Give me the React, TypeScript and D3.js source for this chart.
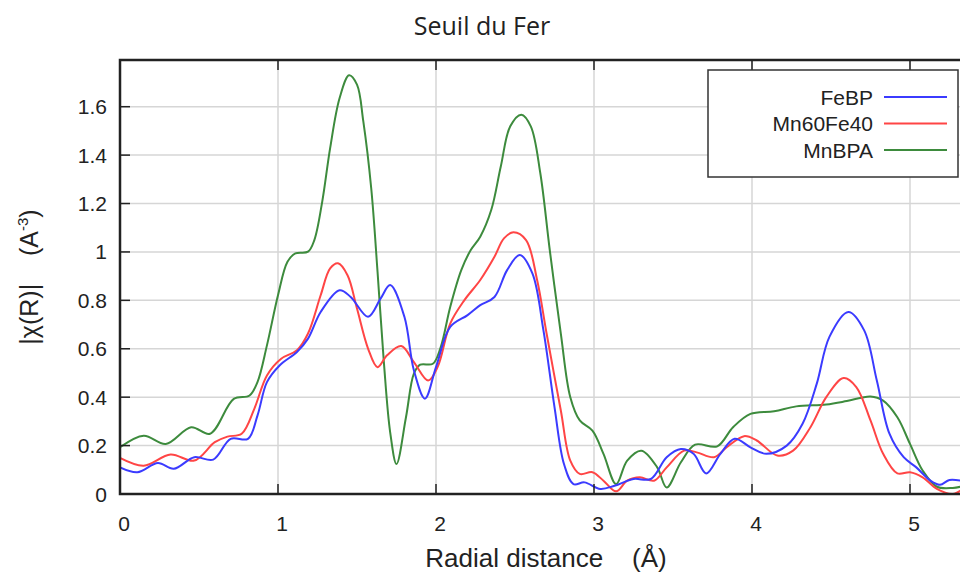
import { useEffect, useRef } from 'react';
import * as d3 from 'd3';

// FeBP
const febpR = [0, 0.11, 0.24, 0.34, 0.47, 0.59, 0.70, 0.81, 0.87, 0.93, 1.01, 1.12, 1.19, 1.27, 1.39, 1.46, 1.57, 1.65, 1.71, 1.80, 1.86, 1.93, 2.00, 2.09, 2.20, 2.28, 2.37, 2.45, 2.53, 2.61, 2.68, 2.75, 2.81, 2.87, 2.94, 3.04, 3.13, 3.25, 3.36, 3.46, 3.55, 3.63, 3.71, 3.80, 3.89, 3.99, 4.09, 4.22, 4.32, 4.41, 4.49, 4.61, 4.71, 4.79, 4.87, 4.96, 5.04, 5.13, 5.19, 5.25, 5.32];
const febpChi = [0.11, 0.09, 0.128, 0.104, 0.152, 0.142, 0.228, 0.228, 0.324, 0.462, 0.531, 0.587, 0.642, 0.752, 0.842, 0.814, 0.732, 0.808, 0.863, 0.732, 0.511, 0.394, 0.524, 0.69, 0.739, 0.78, 0.814, 0.925, 0.987, 0.911, 0.676, 0.359, 0.124, 0.041, 0.048, 0.021, 0.034, 0.062, 0.062, 0.152, 0.186, 0.166, 0.085, 0.166, 0.228, 0.193, 0.166, 0.2, 0.29, 0.456, 0.649, 0.752, 0.676, 0.469, 0.249, 0.152, 0.11, 0.055, 0.038, 0.058, 0.055];

// Mn60Fe40
const mnfeR = [0, 0.15, 0.32, 0.47, 0.60, 0.68, 0.77, 0.85, 0.93, 1.02, 1.12, 1.19, 1.27, 1.33, 1.38, 1.44, 1.50, 1.57, 1.63, 1.69, 1.78, 1.86, 1.95, 2.01, 2.09, 2.18, 2.28, 2.37, 2.43, 2.49, 2.57, 2.64, 2.70, 2.79, 2.85, 2.91, 2.99, 3.06, 3.14, 3.21, 3.29, 3.38, 3.46, 3.57, 3.65, 3.76, 3.84, 3.95, 4.03, 4.16, 4.26, 4.37, 4.47, 4.58, 4.66, 4.75, 4.83, 4.92, 5.00, 5.08, 5.17, 5.27, 5.32];
const mnfeChi = [0.149, 0.117, 0.163, 0.138, 0.214, 0.237, 0.249, 0.352, 0.49, 0.559, 0.594, 0.663, 0.821, 0.932, 0.953, 0.904, 0.766, 0.601, 0.524, 0.573, 0.611, 0.545, 0.469, 0.524, 0.704, 0.801, 0.884, 0.98, 1.056, 1.081, 1.049, 0.884, 0.663, 0.345, 0.138, 0.083, 0.09, 0.055, 0.011, 0.055, 0.069, 0.055, 0.11, 0.179, 0.172, 0.152, 0.193, 0.239, 0.221, 0.159, 0.179, 0.276, 0.4, 0.479, 0.442, 0.304, 0.166, 0.085, 0.09, 0.069, 0.021, 0.0, 0.014];

// MnBPA
const mnbpaR = [0, 0.15, 0.29, 0.45, 0.57, 0.72, 0.82, 0.87, 0.93, 1.00, 1.06, 1.11, 1.19, 1.23, 1.28, 1.33, 1.39, 1.45, 1.50, 1.54, 1.59, 1.63, 1.67, 1.71, 1.75, 1.81, 1.86, 1.90, 1.98, 2.03, 2.09, 2.16, 2.22, 2.28, 2.35, 2.41, 2.47, 2.54, 2.60, 2.66, 2.72, 2.79, 2.85, 2.91, 2.99, 3.06, 3.14, 3.21, 3.30, 3.40, 3.46, 3.55, 3.64, 3.78, 3.88, 3.99, 4.14, 4.28, 4.47, 4.60, 4.75, 4.83, 4.92, 5.00, 5.08, 5.17, 5.27, 5.32];
const mnbpaChi = [0.193, 0.241, 0.207, 0.276, 0.249, 0.393, 0.407, 0.462, 0.614, 0.821, 0.959, 0.994, 1.001, 1.049, 1.208, 1.429, 1.636, 1.73, 1.691, 1.539, 1.263, 0.918, 0.545, 0.255, 0.124, 0.317, 0.497, 0.534, 0.538, 0.607, 0.773, 0.925, 1.008, 1.063, 1.174, 1.353, 1.519, 1.567, 1.519, 1.326, 1.008, 0.663, 0.4, 0.304, 0.262, 0.166, 0.041, 0.138, 0.179, 0.11, 0.027, 0.131, 0.204, 0.197, 0.276, 0.331, 0.342, 0.362, 0.37, 0.384, 0.403, 0.386, 0.317, 0.207, 0.097, 0.03, 0.025, 0.03];

const seriesNames = ['FeBP', 'Mn60Fe40', 'MnBPA'];
const seriesColors = ['#3b3bff', '#ff4545', '#3d8b3d'];
const xTicks = [0, 1, 2, 3, 4, 5];
const yTicks = [0, 0.2, 0.4, 0.6, 0.8, 1, 1.2, 1.4, 1.6];

export default function App() {
    const svgRef = useRef<SVGSVGElement>(null);
    const width = 960;
    const height = 575;
    const m = { left: 120, top: 60, right: 962, bottom: 494 };

    useEffect(() => {
        if (!svgRef.current) return;
        const svg = d3.select(svgRef.current);
        svg.selectAll('*').remove();

        const x = d3.scaleLinear().domain([0, 5.38]).range([m.left, m.left + 5.38 * 158]);
        const y = d3.scaleLinear().domain([0, 1.6]).range([m.bottom, 106.7]);
        const right = x(5.38);
        const font = '"Liberation Sans", Arial, sans-serif';

        svg.append('defs').append('clipPath').attr('id', 'plot-clip')
            .append('rect')
            .attr('x', m.left).attr('y', m.top)
            .attr('width', right - m.left).attr('height', m.bottom - m.top);

        // grid
        const grid = svg.append('g').attr('stroke', '#d6d6d6').attr('stroke-width', 1.5);
        yTicks.slice(1).forEach(t => {
            grid.append('line').attr('x1', m.left).attr('x2', right).attr('y1', y(t)).attr('y2', y(t));
        });
        xTicks.slice(1).forEach(t => {
            grid.append('line').attr('x1', x(t)).attr('x2', x(t)).attr('y1', m.top).attr('y2', m.bottom);
        });

        // lines
        const line = d3.line<[number, number]>()
            .x(d => x(d[0]))
            .y(d => y(d[1]))
            .curve(d3.curveCatmullRom.alpha(0.5));
        const series: [number, number][][] = [
            febpR.map((r, i) => [r, febpChi[i]]),
            mnfeR.map((r, i) => [r, mnfeChi[i]]),
            mnbpaR.map((r, i) => [r, mnbpaChi[i]]),
        ];
        const lines = svg.append('g').attr('clip-path', 'url(#plot-clip)');
        // green first, blue on top
        [2, 1, 0].forEach(i => {
            lines.append('path')
                .attr('d', line(series[i]))
                .attr('fill', 'none')
                .attr('stroke', seriesColors[i])
                .attr('stroke-width', 2)
                .attr('stroke-linejoin', 'round');
        });

        // frame
        svg.append('rect')
            .attr('x', m.left).attr('y', m.top)
            .attr('width', right - m.left).attr('height', m.bottom - m.top)
            .attr('fill', 'none').attr('stroke', '#222').attr('stroke-width', 2.5);

        // ticks (inward)
        const tk = svg.append('g').attr('stroke', '#222').attr('stroke-width', 1.5);
        yTicks.forEach(t => {
            tk.append('line').attr('x1', m.left).attr('x2', m.left + 10).attr('y1', y(t)).attr('y2', y(t));
        });
        xTicks.forEach(t => {
            tk.append('line').attr('x1', x(t)).attr('x2', x(t)).attr('y1', m.bottom).attr('y2', m.bottom - 10);
            tk.append('line').attr('x1', x(t)).attr('x2', x(t)).attr('y1', m.top).attr('y2', m.top + 10);
        });

        // tick labels
        svg.append('g')
            .selectAll('text')
            .data(yTicks)
            .enter().append('text')
            .attr('x', 107)
            .attr('y', d => y(d))
            .attr('dy', '0.36em')
            .attr('text-anchor', 'end')
            .attr('font-family', font)
            .attr('font-size', 21)
            .attr('fill', '#222')
            .text(d => d3.format('~g')(d));

        svg.append('g')
            .selectAll('text')
            .data(xTicks)
            .enter().append('text')
            .attr('x', d => x(d) + 4)
            .attr('y', 531)
            .attr('text-anchor', 'middle')
            .attr('font-family', font)
            .attr('font-size', 21)
            .attr('fill', '#222')
            .text(d => String(d));

        // axis titles
        svg.append('text')
            .attr('x', 546)
            .attr('y', 567)
            .attr('text-anchor', 'middle')
            .attr('font-family', font)
            .attr('font-size', 26)
            .attr('fill', '#222')
            .attr('xml:space', 'preserve')
            .text('Radial distance    (Å)');

        const yl = svg.append('text')
            .attr('transform', 'translate(38,277) rotate(-90)')
            .attr('text-anchor', 'middle')
            .attr('font-family', font)
            .attr('font-size', 25)
            .attr('fill', '#222')
            .attr('xml:space', 'preserve');
        yl.append('tspan').text('|χ(R)|    (A');
        yl.append('tspan').attr('font-size', 15).attr('dy', -10).text('-3');
        yl.append('tspan').attr('dy', 10).text(')');

        // title
        svg.append('text')
            .attr('x', 482)
            .attr('y', 35)
            .attr('text-anchor', 'middle')
            .attr('font-family', '"Open Sans", sans-serif')
            .attr('font-size', 25)
            .attr('fill', '#222')
            .text('Seuil du Fer');

        // legend
        const lg = svg.append('g');
        lg.append('rect')
            .attr('x', 708).attr('y', 70).attr('width', 250).attr('height', 107)
            .attr('fill', '#fff').attr('stroke', '#333').attr('stroke-width', 1.5);
        seriesNames.forEach((name, i) => {
            const ly = 97 + i * 26.5;
            lg.append('text')
                .attr('x', 873).attr('y', ly).attr('dy', '0.36em')
                .attr('text-anchor', 'end')
                .attr('font-family', font)
                .attr('font-size', 21)
                .attr('fill', '#222')
                .text(name);
            lg.append('line')
                .attr('x1', 884).attr('x2', 947).attr('y1', ly).attr('y2', ly)
                .attr('stroke', seriesColors[i]).attr('stroke-width', 2);
        });
    }, []);

    return (
        <div style={{ position: 'fixed', left: 0, top: 0 }}>
            <svg ref={svgRef} width={width} height={height} style={{ display: 'block', background: '#fff' }} />
        </div>
    );
}
